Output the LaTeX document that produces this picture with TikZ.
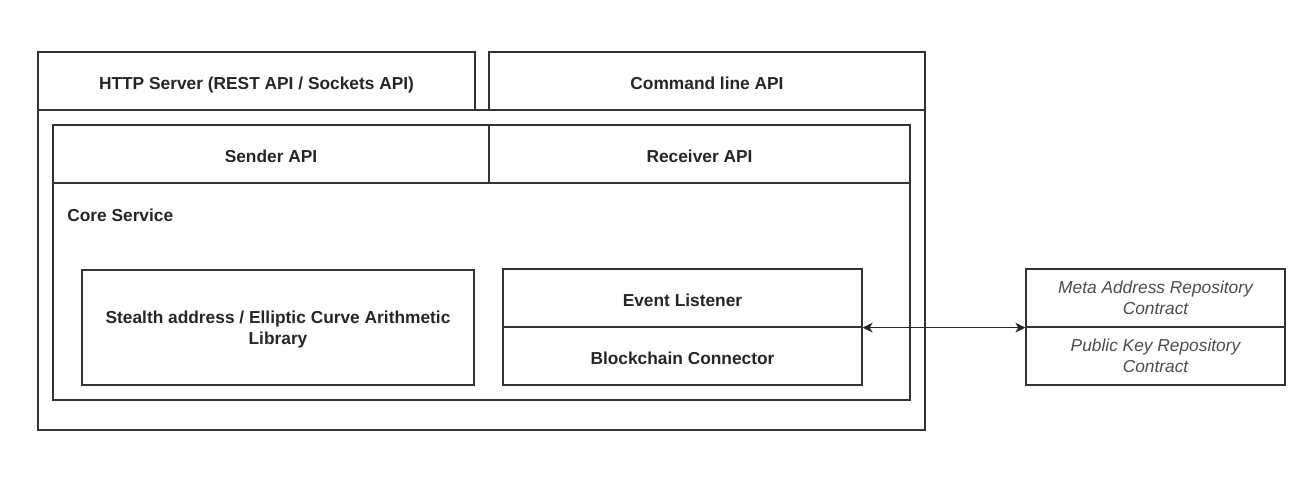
\documentclass[tikz,border=0pt]{standalone}
\usepackage{fontspec}
\setmainfont{Liberation Sans}
\usetikzlibrary{arrows.meta}
\newlength\px
\setlength\px{0.75pt}

\tikzset{
    part/.style={shape=rectangle, draw=black!80, line width=1.3\px, inner sep=0pt,
        font=\fontsize{13}{16}\selectfont\bfseries, text=black!85, align=center},
    single/.style={part, text height=12.6pt, text depth=0pt},
    contract/.style={part, font=\fontsize{13}{16}\selectfont\itshape, text=black!70},
    link/.style={{Stealth[length=7.5pt, width=7.5pt, inset=2.25pt]}-{Stealth[length=7.5pt, width=7.5pt, inset=2.25pt]}, draw=black!85, line width=1.3\px},
}

\begin{document}
\begin{tikzpicture}[x=1\px, y=-1\px]
    \useasboundingbox (0,0) rectangle (1314,494);

    \node[part, minimum width=887\px, minimum height=320\px] (service) at (481.5,270) {};
    \node[single, minimum width=437\px, minimum height=58\px] (http) at (256.5,81) {HTTP Server (REST API / Sockets API)};
    \node[single, minimum width=436\px, minimum height=58\px] (cli) at (707,81) {Command line API};

    \node[part, minimum width=857\px, minimum height=275\px] (core) at (481.5,262.5) {};
    \node[single, minimum width=436\px, minimum height=58\px] (sender) at (271,154) {Sender API};
    \node[single, minimum width=421\px, minimum height=58\px] (receiver) at (699.5,154) {Receiver API};
    \node[font=\fontsize{13}{16}\selectfont\bfseries, text=black!85, inner sep=0pt, anchor=west] (corelabel) at (67,215) {Core Service};

    \node[part, text depth=0pt, minimum width=392\px, minimum height=115\px] (stealth) at (278,327.5) {Stealth address / Elliptic Curve Arithmetic\\Library};
    \node[single, minimum width=359\px, minimum height=58\px] (listener) at (682.5,298) {Event Listener};
    \node[single, minimum width=359\px, minimum height=58\px] (connector) at (682.5,356) {Blockchain Connector};

    \node[contract, minimum width=259\px, minimum height=58\px] (metarepo) at (1155.5,298) {Meta Address Repository\\Contract};
    \node[contract, minimum width=259\px, minimum height=58\px] (keyrepo) at (1155.5,356) {Public Key Repository\\Contract};

    \path (listener.south east) edge[link] (metarepo.south west);
\end{tikzpicture}
\end{document}
